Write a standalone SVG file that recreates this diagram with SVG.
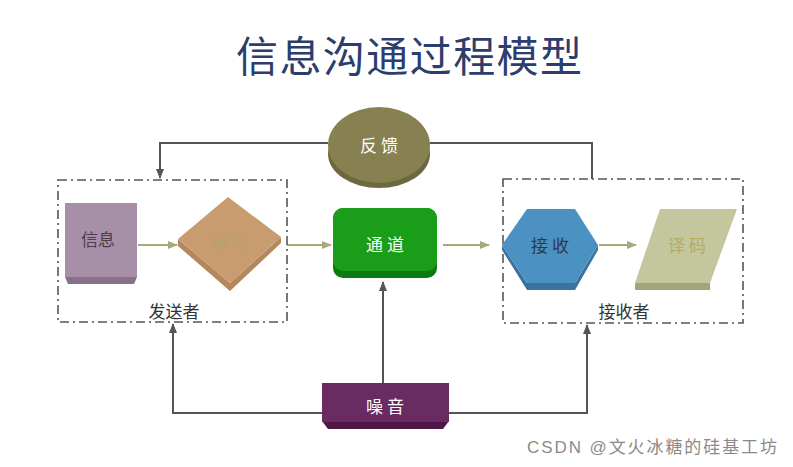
<svg xmlns="http://www.w3.org/2000/svg" width="793" height="467" viewBox="0 0 793 467">
<style>
.t{font-family:"Noto Sans CJK SC","Noto Sans CJK JP",sans-serif;}
.grp{fill:none;stroke:#555;stroke-width:1.6;stroke-dasharray:9 4 2 4;}
.flow{fill:none;stroke:#a9a87a;stroke-width:2;marker-end:url(#ao);}
.ctl{fill:none;stroke:#555;stroke-width:2;}
.lbl{font-size:17px;fill:#fff;text-anchor:middle;}
.cap{font-size:17px;fill:#333;text-anchor:middle;}
</style>
<defs>
<marker id="ao" viewBox="0 0 10 10" refX="9" refY="5" markerWidth="5" markerHeight="5" orient="auto"><path d="M0,1 L10,5 L0,9 z" fill="#a9a87a"/></marker>
<marker id="ad" viewBox="0 0 10 10" refX="9" refY="5" markerWidth="5" markerHeight="5" orient="auto"><path d="M0,1 L10,5 L0,9 z" fill="#555"/></marker>
</defs>
<rect width="793" height="467" fill="#fff"/>
<text class="t" x="409" y="72" font-size="42" fill="#2c3d6e" text-anchor="middle" textLength="346" lengthAdjust="spacing">信息沟通过程模型</text>

<g id="connectors">
<path class="ctl" d="M328,143 H160 V178" marker-end="url(#ad)"/>
<path class="ctl" d="M430,143 H592 V179"/>
<path class="ctl" d="M383,383 V282" marker-end="url(#ad)"/>
<path class="ctl" d="M322,413 H173 V324" marker-end="url(#ad)"/>
<path class="ctl" d="M449,413 H587 V325" marker-end="url(#ad)"/>
<path class="flow" d="M138,245 H177"/>
<path class="flow" d="M287,245 H331"/>
<path class="flow" d="M443,245 H489"/>
<path class="flow" d="M599,245 H636"/>
</g>

<g id="sender">
<rect class="grp" x="58" y="180" width="229" height="142"/>
<text class="t cap" x="174" y="318">发送者</text>
</g>
<g id="receiver">
<rect class="grp" x="503" y="179" width="240" height="144"/>
<text class="t cap" x="624" y="318">接收者</text>
</g>

<g id="info">
<path d="M65,277 H137 L134,284 H68 z" fill="#87718a"/>
<rect x="65" y="203" width="72" height="74" fill="#a88fa8"/>
<text class="t" x="98" y="246" font-size="17" fill="#4a4048" text-anchor="middle">信息</text>
</g>

<g id="encode">
<path d="M178,239 L230,283 L281,237 L281,243 L230,291 L178,246 z" fill="#b5875c"/>
<path d="M228,197 L281,237 L230,283 L178,239 z" fill="#c99c70"/>
<text class="t" x="229" y="248" font-size="15" fill="#a9a65e" fill-opacity="0.6" text-anchor="middle">编 码</text>
</g>

<g id="channel">
<rect x="333" y="208" width="104" height="70" rx="10" fill="#0c7a10"/>
<rect x="333" y="208" width="104" height="63" rx="10" fill="#1a9e1a"/>
<text class="t lbl" x="385" y="251">通 道</text>
</g>

<g id="feedback">
<ellipse cx="379" cy="154" rx="51" ry="34" fill="#6d6840"/>
<ellipse cx="379" cy="145" rx="51" ry="38" fill="#878152"/>
<text class="t lbl" x="379" y="152">反 馈</text>
</g>

<g id="receive">
<path d="M502,245 L527,283 H575 L598,245 L598,250 L575,290 H527 L502,250 z" fill="#3a73a0"/>
<path d="M502,245 L527,209 H575 L598,245 L575,283 H527 z" fill="#4b92c2"/>
<text class="t" x="550" y="252" font-size="17" fill="#2e3a44" text-anchor="middle">接 收</text>
</g>

<g id="decode">
<path d="M635,283 H710 L710,290 H635 z" fill="#a2a47a"/>
<path d="M660,209 H737 L710,283 H635 z" fill="#c4c79d"/>
<text class="t" x="687" y="252" font-size="17" fill="#b3ab5e" text-anchor="middle">译 码</text>
</g>

<g id="noise">
<path d="M322,421 H449 L443,429 H328 z" fill="#4d1847"/>
<rect x="322" y="383" width="127" height="39" fill="#6a2a62"/>
<text class="t lbl" x="385" y="413">噪 音</text>
</g>

<text x="527" y="453" font-family="'Liberation Sans','Noto Sans CJK SC',sans-serif" font-size="17" fill="#8a8a8a" textLength="250" lengthAdjust="spacing">CSDN @文火冰糖的硅基工坊</text>
</svg>
